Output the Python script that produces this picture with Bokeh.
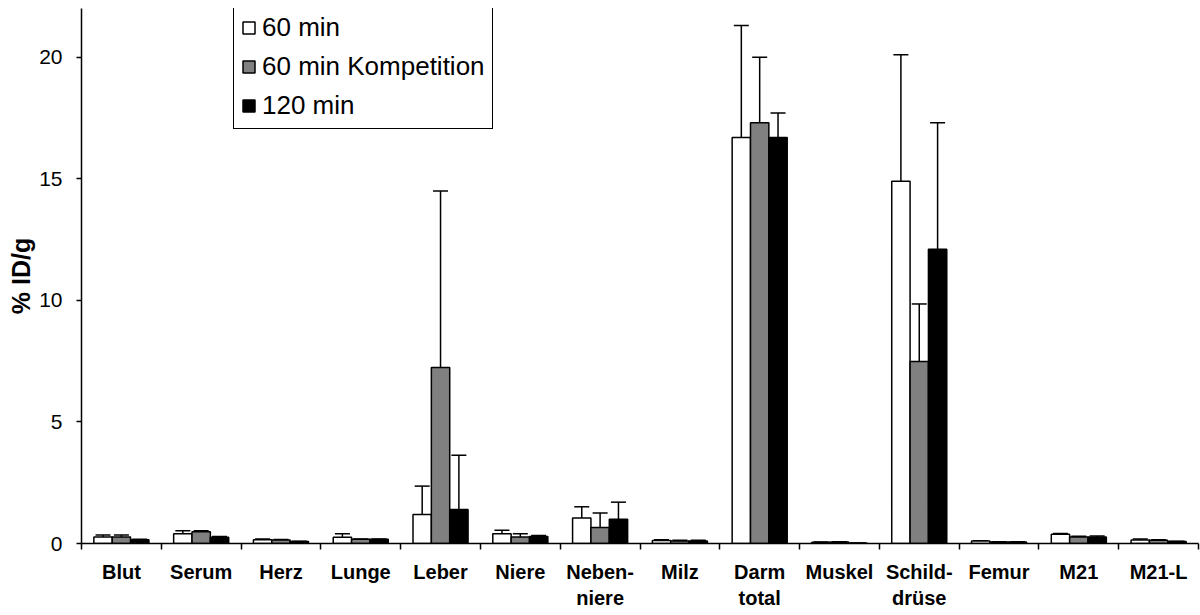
from bokeh.plotting import figure
from bokeh.models import (ColumnDataSource, FixedTicker, Whisker, TeeHead,
                          Legend, LegendItem, Range1d)
from bokeh.embed import file_html
from bokeh.resources import INLINE

categories = ["Blut", "Serum", "Herz", "Lunge", "Leber", "Niere", "Neben-\nniere",
              "Milz", "Darm\ntotal", "Muskel", "Schild-\ndrüse", "Femur", "M21", "M21-L"]
series_names = ["60 min", "60 min Kompetition", "120 min"]

val_60 = [0.27, 0.40, 0.15, 0.26, 1.19, 0.40, 1.05, 0.12, 16.7, 0.05, 14.9, 0.10, 0.38, 0.14]
err_60 = [0.08, 0.12, 0.04, 0.14, 1.17, 0.14, 0.46, 0.03, 4.6, 0.01, 5.2, 0.01, 0.03, 0.05]
val_60k = [0.27, 0.48, 0.14, 0.17, 7.24, 0.27, 0.66, 0.10, 17.3, 0.06, 7.48, 0.06, 0.27, 0.13]
err_60k = [0.08, 0.04, 0.02, 0.02, 7.26, 0.13, 0.59, 0.03, 2.7, 0.01, 2.37, 0.01, 0.03, 0.02]
val_120 = [0.15, 0.26, 0.08, 0.17, 1.40, 0.29, 1.00, 0.10, 16.7, 0.02, 12.1, 0.06, 0.27, 0.08]
err_120 = [0.02, 0.03, 0.01, 0.02, 2.23, 0.04, 0.70, 0.03, 1.0, 0.0, 5.2, 0.01, 0.04, 0.01]

y_ticks = [0, 5, 10, 15, 20]

FONT = "Liberation Sans"
n = len(categories)
centers = [i + 0.5 for i in range(n)]

p = figure(frame_width=1117, frame_height=535, x_range=Range1d(0, n), y_range=Range1d(0, 22),
           output_backend="svg", toolbar_location=None,
           min_border_left=81, min_border_right=2, min_border_top=8, min_border_bottom=10)
p.outline_line_color = None
p.xgrid.visible = False
p.ygrid.visible = False

values = [val_60, val_60k, val_120]
errors = [err_60, err_60k, err_120]
fills = ["white", "#808080", "black"]
offsets = [-0.23, 0.0, 0.23]
bw = 0.23

items = []
for name, vals, errs, fc, off in zip(series_names, values, errors, fills, offsets):
    src = ColumnDataSource(dict(x=[c + off for c in centers], top=vals,
                                upper=[v + e for v, e in zip(vals, errs)]))
    r = p.vbar(x="x", top="top", width=bw, source=src, fill_color=fc,
               line_color="black", line_width=1.5)
    items.append(LegendItem(label=name, renderers=[r]))
    w = Whisker(base="x", lower="top", upper="upper", source=src, dimension="height",
                line_color="black", line_width=1.5,
                upper_head=TeeHead(size=15, line_color="black", line_width=1.5),
                lower_head=None)
    p.add_layout(w)

legend = Legend(items=items, location=(152, 414), orientation="vertical")
legend.label_text_font = FONT
legend.label_text_font_size = "26px"
legend.label_text_color = "black"
legend.label_height = 30
legend.glyph_height = 15
legend.glyph_width = 15
legend.label_standoff = 6
legend.spacing = 8
legend.padding = 7
legend.margin = 0
legend.border_line_color = "black"
legend.border_line_width = 1
legend.border_line_alpha = 1
legend.background_fill_alpha = 1
p.add_layout(legend, "center")

# x axis
xa = p.xaxis[0]
xa.ticker = FixedTicker(ticks=centers, minor_ticks=list(range(n + 1)))
xa.major_label_overrides = {c: lab for c, lab in zip(centers, categories)}
xa.major_tick_out = 0
xa.major_tick_in = 0
xa.minor_tick_out = 6
xa.minor_tick_in = 0
xa.minor_tick_line_width = 1.5
xa.axis_line_width = 1.5
xa.major_label_text_font = FONT
xa.major_label_text_font_style = "bold"
xa.major_label_text_font_size = "20px"
xa.major_label_standoff = 11
xa.major_label_text_color = "black"

# y axis
ya = p.yaxis[0]
ya.ticker = FixedTicker(ticks=y_ticks, minor_ticks=[])
ya.major_tick_out = 5
ya.major_tick_in = 0
ya.minor_tick_out = 0
ya.minor_tick_in = 0
ya.major_tick_line_width = 1.5
ya.axis_line_width = 1.5
ya.major_label_text_font = FONT
ya.major_label_text_font_size = "21px"
ya.major_label_standoff = 14
ya.major_label_text_color = "black"
ya.axis_label = "% ID/g"
ya.axis_label_text_font = FONT
ya.axis_label_text_font_style = "bold"
ya.axis_label_text_font_size = "25px"
ya.axis_label_standoff = 1
ya.axis_label_text_color = "black"

open("out.html", "w").write(file_html(p, INLINE))
